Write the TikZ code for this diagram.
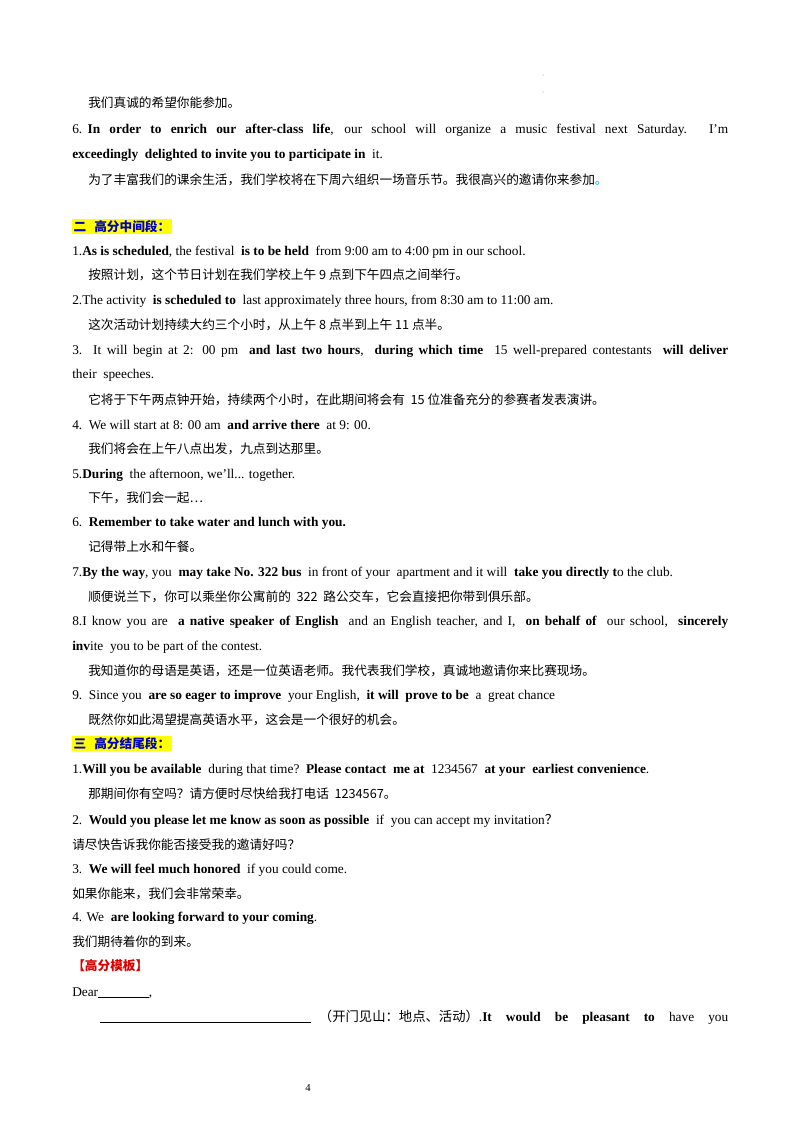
\documentclass[tikz,border=0pt]{standalone}
\usepackage{fontspec}
\setmainfont{Liberation Serif}
\newfontfamily\cjk{Noto Sans CJK SC}
\definecolor{hl}{RGB}{255,255,0}
\definecolor{hblue}{RGB}{0,0,200}
\definecolor{hred}{RGB}{220,0,0}
\begin{document}
\begin{tikzpicture}[x=0.75pt,y=-0.75pt,
  t/.style={anchor=base west,inner sep=0pt,font=\fontsize{10pt}{12pt}\selectfont},
  c/.style={anchor=base west,inner sep=0pt,font=\fontsize{9.5pt}{12pt}\selectfont\cjk},
  head/.style={anchor=base west,inner sep=1pt,fill=hl,text=hblue,font=\fontsize{9.5pt}{12pt}\selectfont\cjk\bfseries}]
\useasboundingbox[fill=white] (0,0) rectangle (800,1132);
\newcommand{\fl}[1]{\makebox[492pt][s]{#1}}
\fill[gray] (543,75) circle (0.5) (543,92) circle (0.5);
\node[c] (a1) at (88,107) {我们真诚的希望你能参加。};
\node[t] (a2) at (72,133) {\fl{6.\hspace{4pt}\textbf{In order to enrich our after-class life}, our school will organize a music festival next Saturday. I'm}};
\node[t] (a3) at (72,158) {\textbf{exceedingly\ \ delighted to invite you to participate in}\ \ it.};
\node[c] (a4) at (88,184) {为了丰富我们的课余生活，我们学校将在下周六组织一场音乐节。我很高兴的邀请你来参加\textcolor{cyan}{。}};
\node[head] (h2) at (72,231) {二\hspace{6pt}高分中间段：};
\node[t] (b1) at (72,255) {1.\textbf{As is scheduled}, the festival\ \ \textbf{is to be held}\ \ from 9:00 am to 4:00 pm in our school.};
\node[c] (b1c) at (88,279) {按照计划，这个节日计划在我们学校上午 9 点到下午四点之间举行。};
\node[t] (b2) at (72,304) {2.The activity\ \ \textbf{is scheduled to}\ \ last approximately three hours, from 8:30 am to 11:00 am.};
\node[c] (b2c) at (88,329) {这次活动计划持续大约三个小时，从上午 8 点半到上午 11 点半。};
\node[t] (b3) at (72,354) {\fl{3.\ \ It will begin at 2: 00 pm\ \ \textbf{and last two hours},\ \ \textbf{during which time}\ \ 15 well-prepared contestants\ \ \textbf{will deliver}}};
\node[t] (b3b) at (72,378) {their\ \ speeches.};
\node[c] (b3c) at (88,404) {它将于下午两点钟开始，持续两个小时，在此期间将会有\ \ 15 位准备充分的参赛者发表演讲。};
\node[t] (b4) at (72,429) {4.\ \ We will start at 8: 00 am\ \ \textbf{and arrive there}\ \ at 9: 00.};
\node[c] (b4c) at (88,453) {我们将会在上午八点出发，九点到达那里。};
\node[t] (b5) at (72,478) {5.\textbf{During}\ \ the afternoon, we'll... together.};
\node[c] (b5c) at (88,502) {下午，我们会一起…};
\node[t] (b6) at (72,526) {6.\ \ \textbf{Remember to take water and lunch with you.}};
\node[c] (b6c) at (88,551) {记得带上水和午餐。};
\node[t] (b7) at (72,576) {7.\textbf{By the way}, you\ \ \textbf{may take No. 322 bus}\ \ in front of your\ \ apartment and it will\ \ \textbf{take you directly t}o the club.};
\node[c] (b7c) at (88,601) {顺便说兰下，你可以乘坐你公寓前的\ \ 322\ \ 路公交车，它会直接把你带到俱乐部。};
\node[t] (b8) at (72,625) {\fl{8.I know you are\ \ \textbf{a native speaker of English}\ \ and an English teacher, and I,\ \ \textbf{on behalf of}\ \ our school,\ \ \textbf{sincerely}}};
\node[t] (b8b) at (72,650) {\textbf{inv}ite\ \ you to be part of the contest.};
\node[c] (b8c) at (88,675) {我知道你的母语是英语，还是一位英语老师。我代表我们学校，真诚地邀请你来比赛现场。};
\node[t] (b9) at (72,699) {9.\ \ Since you\ \ \textbf{are so eager to improve}\ \ your English,\ \ \textbf{it will\ \ prove to be}\ \ a\ \ great chance};
\node[c] (b9c) at (88,724) {既然你如此渴望提高英语水平，这会是一个很好的机会。};
\node[head] (h3) at (72,748) {三\hspace{6pt}高分结尾段：};
\node[t] (e1) at (72,773) {1.\textbf{Will you be available}\ \ during that time?\ \ \textbf{Please contact\ \ me at}\ \ 1234567\ \ \textbf{at your\ \ earliest convenience}.};
\node[c] (e1c) at (88,798) {那期间你有空吗？请方便时尽快给我打电话\ \ 1234567。};
\node[t] (e2) at (72,824) {2.\ \ \textbf{Would you please let me know as soon as possible}\ \ if\ \ you can accept my invitation{\cjk？}};
\node[c] (e2c) at (72,849) {请尽快告诉我你能否接受我的邀请好吗？};
\node[t] (e3) at (72,873) {3.\ \ \textbf{We will feel much honored}\ \ if you could come.};
\node[c] (e3c) at (72,898) {如果你能来，我们会非常荣幸。};
\node[t] (e4) at (72,921) {4. We\ \ \textbf{are looking forward to your coming}.};
\node[c] (e4c) at (72,946) {我们期待着你的到来。};
\node[c,text=hred,font=\fontsize{9.5pt}{12pt}\selectfont\cjk\bfseries] (m) at (72,970) {【高分模板】};
\node[t] (d) at (72,996) {Dear\rule[-1pt]{38pt}{0.5pt},};
\node[t] (l) at (100,1021) {\makebox[471pt][s]{\rule[-1pt]{158pt}{0.5pt}\hspace{6pt}{\cjk（开门见山：地点、活动）}.\textbf{It}\hfil\textbf{would}\hfil\textbf{be}\hfil\textbf{pleasant}\hfil\textbf{to}\hfil have\hfil you}};
\node[t,font=\fontsize{8pt}{10pt}\selectfont] (p) at (305,1091) {4};
\end{tikzpicture}
\end{document}
